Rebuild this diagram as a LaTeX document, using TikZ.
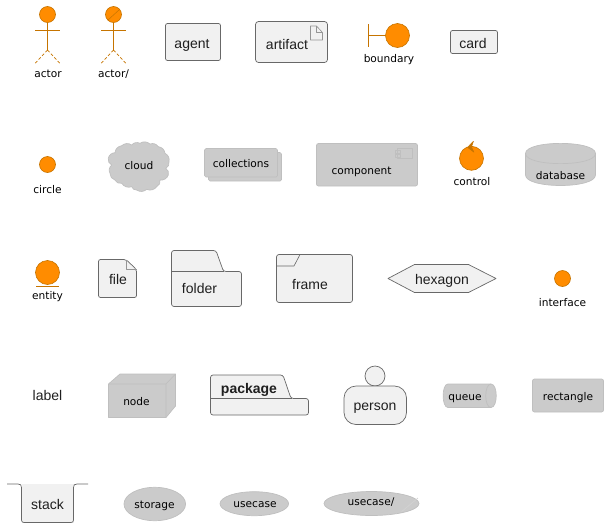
\documentclass[tikz,border=0pt]{standalone}
\usepackage{fontspec}
\setmainfont{Liberation Sans}
\newfontfamily\smallfont{DejaVu Sans}
\definecolor{orangefill}{HTML}{FF8C00}
\definecolor{orangeline}{HTML}{C67400}
\definecolor{lightfill}{HTML}{F1F1F1}
\definecolor{lightline}{HTML}{686868}
\definecolor{grayfill}{HTML}{CBCBCB}
\definecolor{grayline}{HTML}{BFBFBF}
\tikzset{
 bigtext/.style={inner sep=0pt,anchor=base,font=\fontsize{14}{16}\selectfont,text=black!88},
 smalltext/.style={inner sep=0pt,anchor=base,font=\smallfont\fontsize{10.6}{12}\selectfont,text=black},
 lightshape/.style={draw=lightline,fill=lightfill,line width=.7pt,line join=round},
 grayshape/.style={draw=grayline,fill=grayfill,line width=.7pt,line join=round},
 orangeshape/.style={draw=orangeline,fill=orangefill,line width=.6pt},
 orangestroke/.style={draw=orangeline,line width=.8pt},
 legline/.style={draw=orangeline,line width=.7pt,dash pattern=on 3pt off 2pt},
 iconline/.style={draw=lightline!70,line width=.6pt,line join=round},
 grayicon/.style={draw=grayline,line width=.7pt,line join=round},
 bump/.style={bend left=38},
}
\begin{document}
\begin{tikzpicture}[x=1pt,y=-1pt]
\useasboundingbox (0,0) rectangle (611,528);
% actor
\draw[orangeshape] (47.5,14.5) circle[radius=8];
\draw[orangestroke] (47.5,22.5) -- (47.5,50) (35,30.5) -- (60,30.5);
\draw[legline] (47.5,50) -- (35,63.5) (47.5,50) -- (60,63.5);
\node[smalltext] (actorlabel) at (48,77) {actor};
% actor/
\draw[orangeshape] (113.5,14.5) circle[radius=8];
\draw[orangeline,line width=.5pt] (108,20) -- (119.5,9.5);
\draw[orangestroke] (113.5,22.5) -- (113.5,50) (101,30.5) -- (126,30.5);
\draw[legline] (113.5,50) -- (101,63.5) (113.5,50) -- (126,63.5);
\node[smalltext] (actorslabel) at (113.5,77) {actor/};
% agent
\node[lightshape,rounded corners=2pt,minimum width=55pt,minimum height=37pt] (agent) at (193,42) {};
\node[bigtext] (agentlabel) at (192,48.5) {agent};
% artifact
\node[lightshape,rounded corners=3pt,minimum width=72pt,minimum height=41pt] (artifact) at (291.5,42) {};
\node[bigtext] (artifactlabel) at (287,49) {artifact};
\draw[iconline] (310.5,26) -- (316.5,26) -- (322.5,32.5) -- (322.5,40) -- (310.5,40) -- cycle (316.5,26) -- (316.5,32.5) -- (322.5,32.5);
% boundary
\draw[orangestroke] (368.5,24) -- (368.5,47) (368.5,35.5) -- (386,35.5);
\draw[orangeshape] (397.5,35.5) circle[radius=12];
\node[smalltext] (boundarylabel) at (389,62) {boundary};
% card
\node[lightshape,rounded corners=2pt,minimum width=47pt,minimum height=23pt] (card) at (474,42) {};
\node[bigtext] (cardlabel) at (473,48) {card};
% circle
\draw[orangeshape] (47.5,164.5) circle[radius=8];
\node[smalltext] (circlelabel) at (47.5,193) {circle};
% cloud
\draw[grayshape] (115,152.7) to[bump] (121.7,145.7) to[bump] (131.7,145) to[bump] (140,143.3) to[bump] (150,144) to[bump] (158.3,146.7) to[bump] (165,153.3) to[bump] (169,161.7) to[bump] (165.7,168.3) to[bump] (168.3,175) to[bump] (160,180) to[bump] (156.7,186.7) to[bump] (146.7,189.3) to[bump] (136.7,190) to[bump] (131.7,186.7) to[bump] (121.7,183.3) to[bump] (115,180) to[bump] (110,173.3) to[bump] (111.7,165) to[bump] (108.3,158.3) to[bump] (115,152.7) -- cycle;
\node[smalltext] (cloudlabel) at (139,169) {cloud};
% collections
\draw[grayshape,rounded corners=1.5pt] (208.5,152.5) rectangle (281.5,181);
\node[grayshape,rounded corners=1.5pt,minimum width=73pt,minimum height=28.5pt] (collections) at (241,162.75) {};
\node[smalltext] (collectionslabel) at (241,167.3) {collections};
% component
\node[grayshape,rounded corners=2pt,minimum width=101pt,minimum height=42.5pt] (component) at (367,164.75) {};
\node[smalltext] (componentlabel) at (361.5,174.3) {component};
\draw[grayicon] (397.5,148.5) rectangle (412.5,158.5);
\draw[grayicon] (395,150.5) rectangle (400,153) (395,154.5) rectangle (400,157);
% control
\draw[orangeshape] (471.5,158.3) circle[radius=12];
\draw[orangeline,fill=orangeline,line width=.4pt,line join=round] (473.5,141.2) -- (467.5,147.3) -- (474,152.3) -- (471.5,147) -- cycle;
\node[smalltext] (controllabel) at (472,185) {control};
% database
\draw[grayshape] (525.5,153.5) .. controls (525.5,140) and (595.5,140) .. (595.5,153.5) -- (595.5,175)
 .. controls (595.5,189) and (525.5,189) .. (525.5,175) -- cycle;
\draw[grayshape,fill=none] (525.5,153.5) .. controls (525.5,167) and (595.5,167) .. (595.5,153.5);
\node[smalltext] (databaselabel) at (560.5,179.3) {database};
% entity
\draw[orangeshape] (47.5,272.5) circle[radius=12];
\draw[orangestroke] (36,286.5) -- (59,286.5);
\node[smalltext] (entitylabel) at (47.5,299) {entity};
% file
\draw[lightshape,rounded corners=2pt] (98.5,259.5) -- (126,259.5) -- (136.5,269.5) -- (136.5,297.5) -- (98.5,297.5) -- cycle;
\draw[iconline,line width=.6pt] (126,259.5) -- (126,269.5) -- (136.5,269.5);
\node[bigtext] (filelabel) at (118,284) {file};
% folder
\draw[lightshape,rounded corners=2.5pt] (171.5,271.5) -- (171.5,250.5) -- (216,250.5) -- (223.5,271.5) -- (241.5,271.5) -- (241.5,306.5) -- (171.5,306.5) -- cycle;
\draw[lightline,line width=.6pt] (171.5,271.5) -- (224,271.5);
\node[bigtext] (folderlabel) at (199.5,293) {folder};
% frame
\node[lightshape,rounded corners=2.5pt,minimum width=76pt,minimum height=48pt] (frame) at (314.5,278.5) {};
\draw[lightline,line width=.6pt] (276.5,266) -- (294,266) -- (300,254.5);
\node[bigtext] (framelabel) at (310,289) {frame};
% hexagon
\draw[lightshape] (388,278.5) -- (414.5,264.5) -- (468.5,264.5) -- (496,278.5) -- (468.5,292.5) -- (414.5,292.5) -- cycle;
\node[bigtext] (hexagonlabel) at (442,284) {hexagon};
% interface
\draw[orangeshape] (562.5,278.5) circle[radius=8];
\node[smalltext] (interfacelabel) at (562.5,306.7) {interface};
% label
\node[bigtext] (labeltext) at (47.5,400.7) {label};
% node
\draw[grayshape] (108.5,384) -- (120,374) -- (175.5,374) -- (175.5,406) -- (166,417.5) -- (108.5,417.5) -- cycle;
\draw[grayshape,fill=none] (108.5,384) -- (166,384) -- (166,417.5) (166,384) -- (175.5,374);
\node[smalltext] (nodelabel) at (136.5,405.3) {node};
% package
\draw[lightshape,rounded corners=2.5pt] (210.5,398.5) -- (210.5,375) -- (283,375) -- (291,398.5) -- (308.5,398.5) -- (308.5,415) -- (210.5,415) -- cycle;
\draw[lightline,line width=.6pt] (210.5,398.5) -- (291.5,398.5);
\node[bigtext,font=\bfseries\fontsize{14}{16}\selectfont] (packagelabel) at (249,393) {package};
% person
\draw[lightshape] (375,376) circle[radius=10];
\node[lightshape,rounded corners=12pt,minimum width=62.5pt,minimum height=38.5pt] (person) at (375.25,405.25) {};
\node[bigtext] (personlabel) at (375,410.7) {person};
% queue
\draw[grayshape] (448,384) -- (491,384) .. controls (498,384) and (498,407.5) .. (491,407.5) -- (448,407.5) .. controls (441.5,407.5) and (441.5,384) .. (448,384) -- cycle;
\draw[grayshape,fill=none] (491,384) .. controls (484,384) and (484,407.5) .. (491,407.5);
\node[smalltext] (queuelabel) at (465,400) {queue};
% rectangle
\node[grayshape,rounded corners=2pt,minimum width=71pt,minimum height=33pt] (rectangle) at (568,395.5) {};
\node[smalltext] (rectanglelabel) at (568,400) {rectangle};
% stack
\fill[lightfill] (21.5,484) -- (21.5,522.5) -- (73.5,522.5) -- (73.5,484) -- cycle;
\draw[lightline,line width=.7pt,line join=round] (7,484) -- (18,484) .. controls (20.5,484) and (21.5,485) .. (21.5,487.5) -- (21.5,520) .. controls (21.5,521.8) and (22.5,522.5) .. (24,522.5) -- (71,522.5) .. controls (72.5,522.5) and (73.5,521.8) .. (73.5,520) -- (73.5,487.5) .. controls (73.5,485) and (74.5,484) .. (77,484) -- (88,484);
\node[bigtext] (stacklabel) at (47.5,509.3) {stack};
% storage
\draw[grayshape] (154.8,504) ellipse[x radius=30.8,y radius=16.7];
\node[smalltext] (storagelabel) at (154.5,508) {storage};
% usecase
\draw[grayshape] (254.3,503.7) ellipse[x radius=34.3,y radius=12];
\node[smalltext] (usecaselabel) at (255,507.3) {usecase};
% usecase/
\draw[grayshape] (371.5,503.5) ellipse[x radius=47.5,y radius=12];
\draw[grayline!70!white,line width=.7pt] (401.5,511.7) -- (418,498);
\node[smalltext] (usecaseslabel) at (371,505.7) {usecase/};
\end{tikzpicture}
\end{document}
